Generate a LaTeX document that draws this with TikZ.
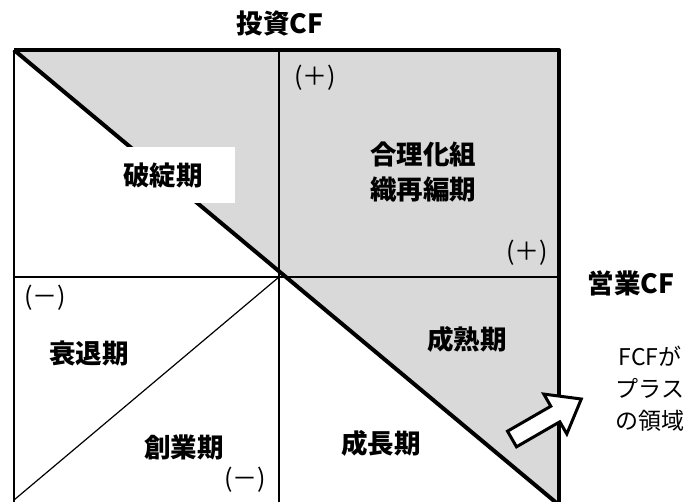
\documentclass[tikz,border=0pt]{standalone}
\usepackage{fontspec}
\setmainfont{Noto Sans CJK JP}
\definecolor{cellgray}{HTML}{D9D9D9}
\begin{document}
\begin{tikzpicture}[x=1pt,y=-1pt,
  thinline/.style={line width=1.6pt},
  diagthin/.style={line width=1.2pt},
  thickline/.style={line width=4pt, line join=round},
  big/.style={inner sep=0pt, font=\bfseries\fontsize{26.5}{35}\selectfont},
  sign/.style={inner sep=0pt, font=\fontsize{25}{28}\selectfont},
  note/.style={inner sep=0pt, align=center, font=\fontsize{23}{32}\selectfont},
  blockarrow/.style={line width=3pt, line join=miter, fill=white, draw=black}]
\useasboundingbox (0,0) rectangle (700,501);
\clip (0,0) rectangle (700,501);
% frame coordinates
\coordinate (tl) at (14,50);
\coordinate (tm) at (279,50);
\coordinate (tr) at (559,50);
\coordinate (ml) at (14,277);
\coordinate (c)  at (279,277);
\coordinate (mr) at (559,277);
\coordinate (bl) at (14,505);
\coordinate (bm) at (279,505);
\coordinate (br) at (559,505);
\coordinate (blt) at (14,500);
% gray region
\fill[cellgray] (tl) -- (tr) -- (br) -- cycle;
% thin grid lines
\draw[thinline] (tl) -- (bl);
\draw[thinline] (tm) -- (bm);
\draw[thinline] (ml) -- (mr);
\draw[diagthin] (c) -- (blt);
% thick lines
\draw[thickline] (tl) -- (br);
\draw[thickline] (tl) -- (tr) -- (br);
% labels
\node[big, fill=white, minimum width=143pt, minimum height=56pt] (hatan) at (163,175) {破綻期};
\node[big] (toushi) at (280,23) {投資CF};
\node[sign] (plus1) at (315,78) {(＋)};
\node[big, align=left] (gouri) at (423,172) {合理化組\\織再編期};
\node[sign] (plus2) at (527,253) {(＋)};
\node[big] (eigyo) at (631,283) {営業CF};
\node[big] (seijuku) at (467,339) {成熟期};
\node[note] (fcf) at (650,389) {FCFが\\プラス\\の領域};
\node[sign] (minus1) at (45,298) {(－)};
\node[big] (suitai) at (89,353) {衰退期};
\node[big] (sougyou) at (184,447) {創業期};
\node[sign] (minus2) at (245,480) {(－)};
\node[big] (seichou) at (381,443) {成長期};
% block arrow
\begin{scope}[shift={(512,439)}, rotate=30]
\draw[blockarrow] (0,-9) -- (50,-9) -- (50,-23) -- (80,0) -- (50,23) -- (50,9) -- (0,9) -- cycle;
\end{scope}
\end{tikzpicture}
\end{document}
